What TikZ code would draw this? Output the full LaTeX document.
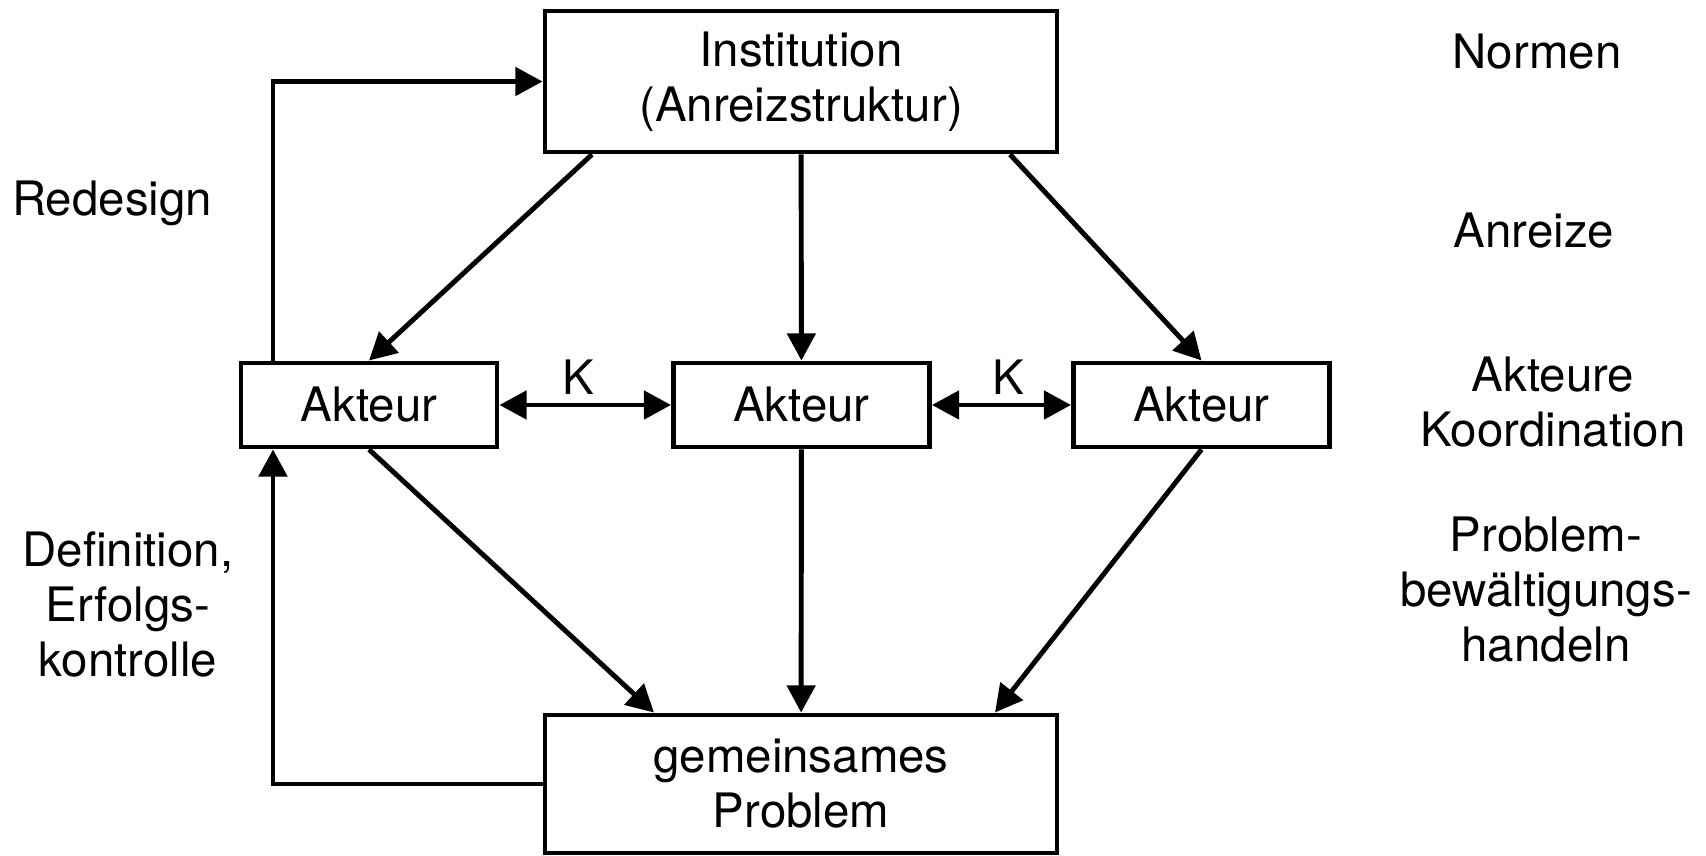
\documentclass[tikz,border=0pt]{standalone}
\usepackage{fontspec}
\setmainfont{TeX Gyre Heros}
\usetikzlibrary{arrows.meta,positioning}

\begin{document}
\begin{tikzpicture}[
    font=\fontsize{27}{31.3}\selectfont,
    box/.style={rectangle, draw, line width=2.8pt, minimum width=10.24cm, minimum height=2.82cm, align=center},
    actor/.style={rectangle, draw, line width=2.8pt, minimum width=5.12cm, minimum height=1.68cm},
    side/.style={align=center},
    arrow/.style={-{Triangle[length=15.5pt,width=16pt]}, line width=2.8pt},
    dblarrow/.style={{Triangle[length=15.5pt,width=16pt]}-{Triangle[length=15.5pt,width=16pt]}, line width=2.8pt}
]
    \useasboundingbox (0,0) rectangle (34.12,17.12);

    % Institution
    \node[box] (inst) at (16.02,15.49) {Institution\\(Anreizstruktur)};

    % Akteure
    \node[actor] (akl) at (7.38,9.02) {Akteur};
    \node[actor] (akm) at (16.03,9.02) {Akteur};
    \node[actor] (akr) at (24.03,9.02) {Akteur};

    % Problem
    \node[box, minimum height=2.76cm] (prob) at (16.02,1.44) {gemeinsames\\Problem};

    % x of the feedback loop
    \coordinate (loop) at (5.46,0);

    % Labels left
    \node[side] (redesign) at (2.24,13.06) {Redesign};
    \node[side] (defin) at (2.56,5.04) {Definition,\\Erfolgs-\\kontrolle};

    % Labels right
    \node[side] (normen) at (30.74,16.08) {Normen};
    \node[side] (anreize) at (30.68,12.5) {Anreize};
    \node[side] (koord) at (31.06,9.07) {Akteure\\Koordination};
    \node[side] (handeln) at (30.92,5.32) {Problem-\\bewältigungs-\\handeln};

    % Arrows
    \draw[arrow] ([xshift=-4.18cm]inst.south) -- (akl.north);
    \draw[arrow] (inst) -- (akm);
    \draw[arrow] ([xshift=4.18cm]inst.south) -- (akr.north);
    \draw[dblarrow] (akl) -- (akm) node[midway, above, xshift=-4pt, yshift=1pt] (k1) {K};
    \draw[dblarrow] (akm) -- (akr) node[midway, above, xshift=4pt, yshift=1pt] (k2) {K};
    \draw[arrow] (akl.south) -- ([xshift=-2.94cm]prob.north);
    \draw[arrow] (akm) -- (prob);
    \draw[arrow] (akr.south) -- ([xshift=3.88cm]prob.north);

    % Feedback
    \draw[arrow] (akl.north -| loop) |- (inst.west);
    \draw[arrow] (prob.west) -| (akl.south -| loop);
\end{tikzpicture}
\end{document}
